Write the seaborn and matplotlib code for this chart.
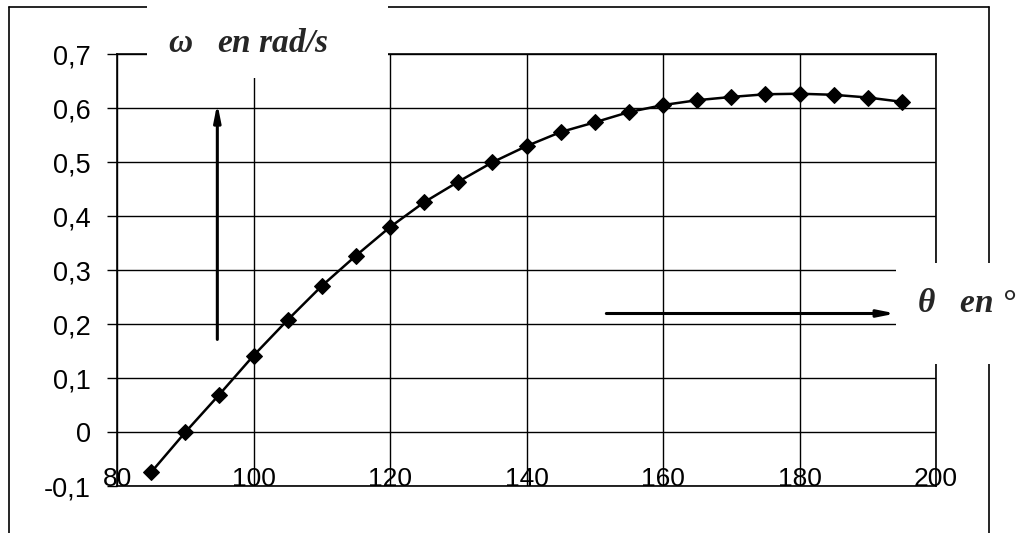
import matplotlib
matplotlib.use("Agg")
import matplotlib.pyplot as plt
import matplotlib.patches as mpatches
import matplotlib.lines as mlines
import seaborn as sns
import pandas as pd

# ---- data ----
theta = [85, 90, 95, 100, 105, 110, 115, 120, 125, 130, 135, 140,
         145, 150, 155, 160, 165, 170, 175, 180, 185, 190, 195]
omega = [-0.074, 0.0, 0.070, 0.142, 0.208, 0.271, 0.327, 0.380, 0.426, 0.464,
         0.500, 0.530, 0.556, 0.574, 0.593, 0.606, 0.615, 0.621, 0.626, 0.627,
         0.625, 0.620, 0.612]
x_ticks = [80, 100, 120, 140, 160, 180, 200]
y_ticks = [-0.1, 0.0, 0.1, 0.2, 0.3, 0.4, 0.5, 0.6, 0.7]
y_tick_labels = ["-0,1", "0", "0,1", "0,2", "0,3", "0,4", "0,5", "0,6", "0,7"]
y_label = r"$\omega$   en rad/s"
x_label = r"$\theta$   en °"

df = pd.DataFrame({"theta": theta, "omega": omega})

sns.set_style("white")
plt.rcParams["font.family"] = ["Liberation Sans", "DejaVu Sans"]
plt.rcParams["mathtext.fontset"] = "custom"
plt.rcParams["mathtext.it"] = "Liberation Serif:italic:bold"
plt.rcParams["mathtext.rm"] = "Liberation Serif:bold"

W, H = 1021, 533
fig = plt.figure(figsize=(W / 100, H / 100), dpi=100)
ax = fig.add_axes([117 / W, 1 - 486.3 / H, (936 - 117) / W, (486.3 - 54.3) / H])

sns.lineplot(data=df, x="theta", y="omega", ax=ax, color="black", lw=1.8,
             marker="D", markersize=8, markeredgecolor="black",
             markerfacecolor="black", zorder=5)

ax.set_xlim(80, 200)
ax.set_ylim(-0.1, 0.7)
ax.set_xticks(x_ticks)
ax.set_yticks(y_ticks)
ax.set_yticklabels(y_tick_labels)
ax.set_xlabel("")
ax.set_ylabel("")
ax.grid(True, color="black", lw=1.0)
for s in ax.spines.values():
    s.set_color("black")
    s.set_linewidth(1.2)
ax.tick_params(axis="y", direction="out", length=7, width=1, pad=12,
               labelsize=19.5, colors="black", left=True)
ax.tick_params(axis="x", length=0, pad=-14, labelsize=19, colors="black")

# arrows
ax.annotate("", xy=(94.7, 0.609), xytext=(94.7, 0.172),
            arrowprops=dict(arrowstyle="-|>,head_length=1.0,head_width=0.2",
                            color="black", lw=2.2, shrinkA=0, shrinkB=0),
            zorder=6)
ax.annotate("", xy=(194.1, 0.22), xytext=(151.7, 0.22),
            arrowprops=dict(arrowstyle="-|>,head_length=1.0,head_width=0.2",
                            color="black", lw=2.2, shrinkA=0, shrinkB=0),
            zorder=6)

# outer frame
def fx(p):
    return p / W

def fy(p):
    return 1 - p / H

frame = [((9, 7), (9, 533)), ((9, 7), (989, 7)), ((989, 7), (989, 533))]
for (x0, y0), (x1, y1) in frame:
    fig.add_artist(mlines.Line2D([fx(x0), fx(x1)], [fy(y0), fy(y1)],
                                 color="black", lw=1.2, zorder=1))

# white masks behind the labels
fig.add_artist(mpatches.Rectangle((fx(147), fy(78)), fx(388) - fx(147), fy(0) - fy(78),
                                  transform=fig.transFigure, facecolor="white",
                                  edgecolor="none", zorder=10))
fig.add_artist(mpatches.Rectangle((fx(896), fy(364)), fx(1021) - fx(896), fy(263) - fy(364),
                                  transform=fig.transFigure, facecolor="white",
                                  edgecolor="none", zorder=10))

fig.text(fx(168), fy(52), y_label, fontsize=24, ha="left", va="baseline",
         family="Liberation Serif", weight="bold", style="italic", zorder=11)
fig.text(fx(917), fy(312), x_label, fontsize=24, ha="left", va="baseline",
         family="Liberation Serif", weight="bold", style="italic", zorder=11)

fig.savefig("out.png", dpi=100)
